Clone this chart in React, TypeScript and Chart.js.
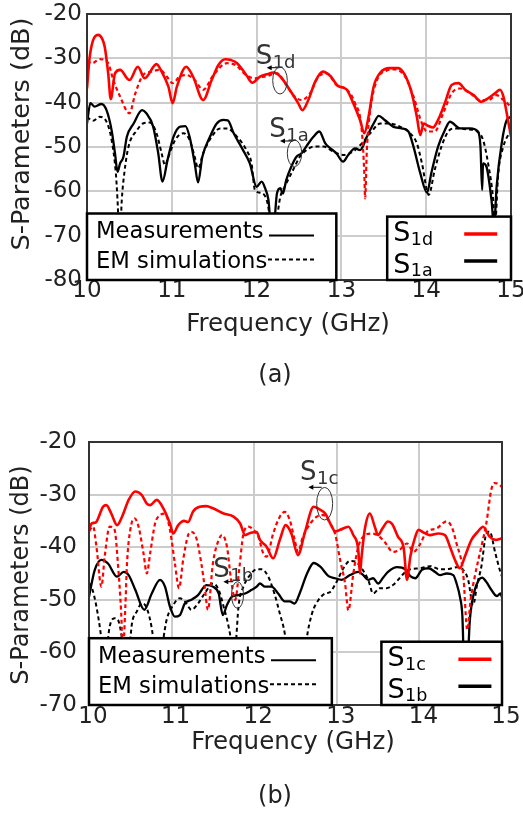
import React, { useEffect, useRef } from "react";
import { Chart, registerables } from "chart.js";

Chart.register(...registerables);

const FONT = "'DejaVu Sans', 'Liberation Sans', sans-serif";
const RED = "#ff0000";
const BLACK = "#000000";
const GRID = "#cccccc";
const FRAME = "#333333";
const TEXT = "#222222";

// ---------- tick values ----------
const xTicks = [10, 11, 12, 13, 14, 15];
const aYTicks = [-80, -70, -60, -50, -40, -30, -20];
const bYTicks = [-70, -60, -50, -40, -30, -20];

// ---------- chart (a) ----------
const aS1dMeasFreq = [10.00,10.03,10.07,10.13,10.18,10.21,10.25,10.28,10.33,10.39,10.50,10.60,10.68,10.82,10.88,10.96,11.01,11.06,11.17,11.25,11.37,11.47,11.55,11.63,11.70,11.77,11.88,11.95,12.04,12.12,12.20,12.28,12.39,12.49,12.54,12.61,12.69,12.78,12.87,12.96,13.06,13.14,13.22,13.27,13.32,13.38,13.46,13.57,13.67,13.75,13.83,13.89,13.93,13.97,14.02,14.08,14.14,14.22,14.30,14.38,14.46,14.56,14.65,14.73,14.81,14.87,14.91,14.95,15.00];
const aS1dMeasDb = [-36.8,-30.0,-26.0,-24.7,-25.6,-27.5,-33.4,-39.2,-33.4,-32.6,-34.9,-31.9,-34.5,-31.3,-33.0,-36.4,-40.1,-36.4,-31.9,-34.1,-39.4,-34.9,-31.5,-30.2,-30.4,-31.1,-33.8,-35.5,-34.1,-33.6,-33.2,-34.1,-37.1,-40.1,-41.7,-39.4,-35.3,-33.0,-34.0,-36.2,-37.0,-40.1,-43.9,-46.9,-43.2,-36.4,-33.2,-32.2,-32.2,-33.8,-37.9,-43.2,-47.3,-44.7,-45.2,-45.6,-43.9,-40.1,-36.0,-35.6,-37.1,-38.3,-39.8,-39.0,-37.9,-37.1,-38.6,-42.4,-47.7];

const aS1dSimFreq = [10.00,10.06,10.15,10.25,10.31,10.39,10.50,10.57,10.66,10.76,10.86,10.94,11.01,11.10,11.18,11.27,11.37,11.49,11.65,11.75,11.88,11.98,12.12,12.24,12.35,12.43,12.53,12.63,12.73,12.83,12.94,13.06,13.16,13.24,13.27,13.28,13.30,13.34,13.42,13.53,13.63,13.75,13.85,13.95,14.01,14.10,14.20,14.30,14.40,14.52,14.63,14.73,14.83,14.91,15.00];
const aS1dSimDb = [-30.6,-31.1,-30.2,-31.1,-34.9,-38.6,-42.4,-37.9,-33.8,-33.0,-32.6,-34.1,-35.6,-34.0,-33.8,-34.9,-37.1,-33.8,-31.1,-31.5,-33.8,-34.5,-34.0,-33.4,-36.0,-38.3,-39.4,-37.9,-34.1,-33.4,-36.0,-37.0,-40.1,-46.2,-55.9,-61.6,-50.7,-41.7,-34.9,-32.8,-32.5,-34.1,-38.6,-44.7,-46.5,-46.5,-42.4,-37.9,-36.8,-37.9,-39.4,-39.4,-38.3,-39.4,-40.9];

const aS1aMeasFreq = [10.00,10.04,10.09,10.17,10.23,10.29,10.33,10.36,10.39,10.43,10.47,10.55,10.65,10.70,10.78,10.84,10.89,10.95,11.02,11.10,11.16,11.21,11.27,11.31,11.36,11.45,11.53,11.61,11.66,11.73,11.84,11.92,12.00,12.06,12.10,12.14,12.17,12.20,12.24,12.28,12.31,12.35,12.41,12.47,12.53,12.61,12.67,12.74,12.81,12.87,12.94,13.02,13.08,13.16,13.22,13.30,13.38,13.44,13.51,13.61,13.71,13.79,13.85,13.93,14.01,14.06,14.14,14.22,14.28,14.40,14.52,14.61,14.64,14.66,14.67,14.71,14.77,14.80,14.83,14.89,14.95,15.00];
const aS1aMeasDb = [-44.7,-40.1,-40.9,-40.3,-41.7,-46.2,-51.4,-55.6,-53.7,-52.2,-47.7,-44.7,-41.7,-42.4,-45.4,-51.4,-57.8,-52.9,-47.7,-45.4,-45.3,-47.7,-53.7,-58.0,-52.2,-47.7,-44.7,-43.9,-44.0,-46.9,-50.7,-53.7,-59.0,-57.8,-59.3,-62.0,-68.0,-68.0,-60.5,-59.3,-60.5,-57.4,-54.4,-52.2,-51.4,-49.2,-47.7,-46.5,-49.2,-50.3,-51.4,-53.3,-51.8,-50.3,-50.7,-47.7,-44.7,-43.0,-43.9,-45.4,-45.8,-46.5,-49.9,-55.9,-60.3,-55.9,-49.9,-46.2,-44.3,-45.8,-45.8,-46.5,-49.9,-59.7,-53.7,-54.4,-62.0,-68.0,-59.0,-49.2,-43.9,-43.2];

const aS1aSimFreq = [10.00,10.07,10.15,10.23,10.29,10.34,10.36,10.385,10.41,10.44,10.49,10.59,10.66,10.74,10.82,10.88,10.92,10.96,11.04,11.14,11.21,11.27,11.31,11.37,11.47,11.57,11.65,11.77,11.88,11.94,11.98,12.06,12.12,12.16,12.20,12.24,12.28,12.33,12.43,12.51,12.59,12.67,12.79,12.90,13.02,13.14,13.24,13.34,13.46,13.57,13.69,13.81,13.89,13.95,14.03,14.10,14.18,14.26,14.34,14.48,14.60,14.67,14.73,14.79,14.81,14.85,14.91,15.00];
const aS1aSimDb = [-43.2,-44.1,-43.2,-44.3,-48.4,-55.9,-62.0,-72.0,-62.0,-55.9,-49.9,-46.2,-44.7,-44.5,-46.9,-51.4,-54.1,-52.2,-48.4,-46.9,-48.4,-52.2,-54.8,-51.4,-47.7,-45.8,-45.8,-47.7,-50.7,-53.7,-59.7,-60.4,-62.0,-66.0,-70.0,-66.0,-61.2,-59.0,-55.2,-52.2,-50.7,-49.9,-49.9,-51.0,-51.8,-51.0,-49.2,-46.9,-44.7,-44.7,-45.4,-46.9,-49.2,-53.7,-60.8,-55.2,-49.9,-46.5,-45.8,-46.0,-46.5,-48.4,-53.7,-62.0,-68.0,-55.9,-49.9,-46.2];

// ---------- chart (b) ----------
const bS1cMeasFreq = [10.00,10.03,10.08,10.17,10.21,10.27,10.34,10.40,10.48,10.56,10.64,10.70,10.74,10.82,10.90,10.98,11.02,11.08,11.15,11.20,11.26,11.34,11.42,11.50,11.63,11.75,11.83,11.89,11.95,12.03,12.07,12.15,12.23,12.31,12.38,12.45,12.53,12.61,12.72,12.79,12.86,12.94,12.98,13.04,13.14,13.20,13.26,13.28,13.30,13.34,13.40,13.46,13.50,13.55,13.62,13.67,13.74,13.81,13.85,13.89,13.95,13.99,14.05,14.13,14.23,14.31,14.37,14.43,14.49,14.55,14.63,14.71,14.77,14.85,14.92,15.00];
const bS1cMeasDb = [-37.0,-35.5,-35.3,-32.3,-32.0,-33.6,-35.8,-34.2,-31.0,-29.4,-30.1,-31.7,-32.0,-31.0,-32.6,-35.5,-37.4,-35.8,-35.0,-35.2,-33.2,-32.3,-32.2,-32.6,-33.6,-34.2,-35.5,-37.7,-37.3,-37.1,-38.6,-39.9,-42.1,-38.6,-35.8,-37.4,-41.5,-37.4,-32.3,-32.8,-33.6,-36.1,-37.0,-36.7,-36.1,-37.7,-40.5,-45.0,-41.8,-36.5,-33.6,-36.1,-37.7,-36.5,-35.1,-35.6,-38.0,-40.2,-46.2,-41.8,-38.0,-36.7,-37.2,-37.7,-37.4,-37.7,-39.9,-42.4,-44.0,-41.8,-38.6,-37.0,-36.1,-38.0,-38.6,-38.3];

const bS1cSimFreq = [10.00,10.05,10.09,10.15,10.19,10.25,10.31,10.35,10.39,10.41,10.44,10.46,10.50,10.55,10.60,10.66,10.70,10.74,10.80,10.86,10.92,10.98,11.04,11.09,11.14,11.20,11.24,11.30,11.36,11.40,11.44,11.50,11.57,11.61,11.67,11.72,11.77,11.82,11.87,11.93,11.99,12.05,12.11,12.15,12.23,12.31,12.37,12.43,12.49,12.53,12.59,12.68,12.76,12.84,12.92,12.98,13.04,13.10,13.14,13.20,13.26,13.32,13.42,13.50,13.58,13.68,13.76,13.85,13.93,13.99,14.09,14.21,14.33,14.39,14.45,14.53,14.58,14.62,14.67,14.75,14.81,14.87,14.91,14.96,15.00];
const bS1cSimDb = [-36.9,-36.1,-39.9,-47.5,-41.8,-36.1,-36.7,-43.1,-52.6,-60.0,-51.3,-43.1,-36.7,-34.5,-36.1,-41.2,-45.0,-41.2,-35.5,-33.9,-33.6,-36.7,-43.1,-47.8,-42.4,-37.7,-37.1,-38.3,-43.1,-47.5,-51.9,-43.1,-38.6,-37.7,-39.9,-46.2,-50.0,-44.0,-37.4,-36.1,-36.7,-38.0,-41.2,-41.8,-37.4,-34.2,-33.3,-34.8,-38.6,-40.9,-38.0,-35.5,-34.2,-33.9,-35.5,-37.5,-42.4,-46.9,-52.0,-45.0,-39.9,-38.0,-37.4,-37.8,-39.0,-40.9,-40.5,-39.3,-40.9,-39.9,-37.1,-36.4,-35.1,-36.1,-39.3,-45.0,-55.7,-50.0,-45.6,-39.9,-35.5,-29.1,-27.8,-28.0,-28.6];

const bS1bMeasFreq = [10.00,10.07,10.15,10.23,10.34,10.42,10.48,10.56,10.67,10.76,10.86,10.92,10.98,11.04,11.10,11.16,11.24,11.32,11.42,11.50,11.57,11.62,11.67,11.73,11.81,11.89,11.97,12.03,12.07,12.13,12.21,12.29,12.37,12.43,12.49,12.55,12.64,12.72,12.80,12.90,12.98,13.06,13.16,13.26,13.32,13.38,13.44,13.50,13.56,13.62,13.73,13.83,13.89,13.95,14.03,14.11,14.19,14.25,14.33,14.41,14.45,14.49,14.52,14.545,14.575,14.61,14.66,14.72,14.76,14.81,14.87,14.94,14.98,15.00];
const bS1bMeasDb = [-49.4,-44.3,-42.4,-43.1,-45.6,-44.7,-45.3,-48.1,-51.9,-48.8,-46.2,-47.5,-51.3,-53.2,-52.9,-50.7,-50.0,-49.1,-47.2,-47.5,-48.8,-52.9,-51.0,-49.4,-49.1,-48.8,-48.1,-47.5,-46.9,-47.5,-47.5,-48.8,-50.3,-50.3,-50.7,-48.8,-45.0,-43.0,-43.7,-45.5,-45.9,-46.2,-45.3,-44.7,-45.3,-46.2,-45.9,-46.9,-45.8,-44.7,-43.8,-44.2,-45.5,-45.9,-44.3,-44.0,-44.7,-45.3,-45.0,-45.3,-46.9,-49.4,-53.0,-64.0,-64.0,-54.0,-48.7,-46.2,-45.8,-46.6,-48.1,-49.3,-48.8,-49.5];

const bS1bSimFreq = [10.00,10.03,10.09,10.15,10.19,10.23,10.25,10.31,10.35,10.40,10.45,10.50,10.52,10.58,10.64,10.68,10.74,10.78,10.84,10.90,10.94,11.02,11.10,11.16,11.24,11.32,11.40,11.50,11.57,11.63,11.69,11.72,11.75,11.78,11.81,11.87,11.95,12.03,12.09,12.17,12.25,12.31,12.37,12.45,12.55,12.63,12.70,12.78,12.86,12.92,13.00,13.08,13.16,13.22,13.30,13.38,13.44,13.52,13.60,13.68,13.76,13.83,13.89,14.01,14.13,14.25,14.37,14.45,14.53,14.59,14.65,14.70,14.75,14.81,14.85,14.92,14.98,15.00];
const bS1bSimDb = [-46.8,-47.5,-51.3,-57.5,-64.0,-57.5,-55.1,-53.5,-53.8,-57.5,-65.0,-57.5,-54.5,-52.2,-50.7,-51.0,-53.8,-57.5,-65.0,-57.5,-53.8,-51.0,-49.7,-50.3,-51.9,-50.7,-48.8,-46.9,-48.1,-51.3,-55.1,-58.0,-64.0,-58.0,-51.3,-47.5,-45.3,-44.2,-44.2,-45.6,-49.1,-52.6,-56.4,-66.0,-70.0,-58.0,-52.6,-50.0,-48.8,-48.5,-46.5,-44.0,-42.6,-42.7,-44.0,-46.2,-48.8,-47.8,-47.8,-47.2,-45.9,-44.7,-44.2,-44.0,-43.6,-44.2,-44.1,-43.8,-44.3,-46.2,-51.0,-47.0,-43.7,-37.4,-37.0,-41.2,-44.7,-45.6];

// ---------- helpers ----------
const pts = (f: number[], d: number[]) => f.map((x, i) => ({ x, y: d[i] }));

type Series = { f: number[]; d: number[]; color: string; width: number; dash: boolean };
type Annot = { sub: string; tf: number; tdb: number; ef: number; edb: number; rx: number; ry: number; adb: number; af0: number; af1: number };
type Spec = {
  height: number; top: number; padTop: number; padRight: number; yAxisWidth: number; xAxisHeight: number;
  yMin: number; yMax: number; yTicks: number[]; yTickPad: number; xTickPad: number; xLabelOffset: number;
  series: Series[];
  styleBox: { f0: number; f1: number; top: number; bottom: number };
  seriesBox: { f0: number; f1: number; top: number; bottom: number; entries: { sub: string; color: string }[] };
  annots: Annot[];
  yTitle: { x: number; y: number; size: number };
  xTitle: { x: number; y: number; size: number };
  caption: { text: string; x: number; y: number };
};

function drawSub(ctx: CanvasRenderingContext2D, x: number, y: number, sub: string, mainSize: number, subSize: number, drop: number, color: string) {
  ctx.fillStyle = color;
  ctx.textAlign = "left";
  ctx.textBaseline = "alphabetic";
  ctx.font = `${mainSize}px ${FONT}`;
  ctx.fillText("S", x, y);
  const w = ctx.measureText("S").width;
  ctx.font = `${subSize}px ${FONT}`;
  ctx.fillText(sub, x + w + 0.5, y + drop);
}

function makeDecor(spec: Spec) {
  return {
    id: "decor",
    afterDatasetsDraw(chart: any) {
      const { ctx, chartArea: ca, scales } = chart;
      const X = (v: number) => scales.x.getPixelForValue(v);
      const Y = (v: number) => scales.y.getPixelForValue(v);
      ctx.save();
      // frame
      ctx.strokeStyle = FRAME;
      ctx.lineWidth = 2;
      ctx.setLineDash([]);
      ctx.strokeRect(ca.left, ca.top, ca.right - ca.left, ca.bottom - ca.top);

      // annotations
      for (const a of spec.annots) {
        ctx.strokeStyle = "#333333";
        ctx.lineWidth = 1;
        ctx.beginPath();
        ctx.ellipse(X(a.ef), Y(a.edb), a.rx, a.ry, 0, 0, Math.PI * 2);
        ctx.stroke();
        const ay = Y(a.adb);
        const x0 = X(a.af0), x1 = X(a.af1);
        ctx.strokeStyle = "#000";
        ctx.beginPath();
        ctx.moveTo(x0, ay);
        ctx.lineTo(x1 + 3, ay);
        ctx.stroke();
        ctx.fillStyle = "#000";
        ctx.beginPath();
        ctx.moveTo(x1, ay);
        ctx.lineTo(x1 + 5, ay - 2.5);
        ctx.lineTo(x1 + 5, ay + 2.5);
        ctx.closePath();
        ctx.fill();
        drawSub(ctx, X(a.tf), Y(a.tdb), a.sub, 26, 18, 4, "#333333");
      }

      // style legend box
      const sb = spec.styleBox;
      const l = X(sb.f0), r = X(sb.f1), t = Y(sb.top), b = Y(sb.bottom);
      ctx.fillStyle = "#ffffff";
      ctx.fillRect(l, t, r - l, b - t);
      ctx.strokeStyle = "#000";
      ctx.lineWidth = 2.5;
      ctx.strokeRect(l, t, r - l, b - t);
      ctx.fillStyle = "#000";
      ctx.font = `22.7px ${FONT}`;
      ctx.textAlign = "left";
      ctx.textBaseline = "alphabetic";
      ctx.fillText("Measurements", l + 9, t + 24.5);
      ctx.fillText("EM simulations", l + 9, t + 54.5);
      ctx.lineWidth = 2;
      ctx.beginPath();
      ctx.moveTo(l + 182, t + 22);
      ctx.lineTo(l + 227, t + 22);
      ctx.stroke();
      ctx.setLineDash([4, 3]);
      ctx.beginPath();
      ctx.moveTo(l + 181, t + 46);
      ctx.lineTo(l + 227, t + 46);
      ctx.stroke();
      ctx.setLineDash([]);

      // series legend box
      const rb = spec.seriesBox;
      const l2 = X(rb.f0), r2 = X(rb.f1), t2 = Y(rb.top), b2 = Y(rb.bottom);
      ctx.fillStyle = "#ffffff";
      ctx.fillRect(l2, t2, r2 - l2, b2 - t2);
      ctx.strokeStyle = "#000";
      ctx.lineWidth = 2.5;
      ctx.strokeRect(l2, t2, r2 - l2, b2 - t2);
      rb.entries.forEach((e, i) => {
        const base = t2 + (i === 0 ? 24.5 : 56);
        const ly = t2 + (i === 0 ? 17.5 : 44.5);
        drawSub(ctx, l2 + 6, base, e.sub, 27, 17.5, 3.5, "#000");
        ctx.strokeStyle = e.color;
        ctx.lineWidth = 3.5;
        ctx.beginPath();
        ctx.moveTo(l2 + 77, ly);
        ctx.lineTo(l2 + 110, ly);
        ctx.stroke();
      });
      ctx.restore();
    },
    afterDraw(chart: any) {
      const { ctx } = chart;
      ctx.save();
      ctx.fillStyle = TEXT;
      ctx.textAlign = "center";
      ctx.textBaseline = "middle";
      ctx.font = `${spec.xTitle.size}px ${FONT}`;
      ctx.fillText("Frequency (GHz)", spec.xTitle.x, spec.xTitle.y);
      ctx.font = `24px ${FONT}`;
      ctx.fillText(spec.caption.text, spec.caption.x, spec.caption.y);
      ctx.translate(spec.yTitle.x, spec.yTitle.y);
      ctx.rotate(-Math.PI / 2);
      ctx.font = `${spec.yTitle.size}px ${FONT}`;
      ctx.fillText("S-Parameters (dB)", 0, 0);
      ctx.restore();
    },
  };
}

function buildConfig(spec: Spec): any {
  return {
    type: "line",
    data: {
      datasets: spec.series.map((s) => ({
        data: pts(s.f, s.d),
        borderColor: s.color,
        borderWidth: s.width,
        borderDash: s.dash ? [4, 3] : [],
        pointRadius: 0,
        fill: false,
        cubicInterpolationMode: "monotone",
      })),
    },
    options: {
      animation: false,
      responsive: false,
      devicePixelRatio: 1,
      events: [],
      layout: { padding: { top: spec.padTop, right: spec.padRight, bottom: 0, left: 0 } },
      plugins: { legend: { display: false }, tooltip: { enabled: false }, title: { display: false } },
      scales: {
        x: {
          type: "linear",
          min: xTicks[0],
          max: xTicks[xTicks.length - 1],
          afterBuildTicks: (s: any) => { s.ticks = xTicks.map((v) => ({ value: v })); },
          ticks: {
            font: { family: FONT, size: 23 },
            color: TEXT,
            padding: spec.xTickPad,
            labelOffset: spec.xLabelOffset,
            maxRotation: 0,
            autoSkip: false,
            callback: (v: number) => String(v),
          },
          grid: { color: GRID, lineWidth: 2, drawTicks: false },
          border: { display: false },
          afterFit: (s: any) => { s.height = spec.xAxisHeight; s.paddingLeft = 0; s.paddingRight = 0; },
        },
        y: {
          type: "linear",
          min: spec.yMin,
          max: spec.yMax,
          afterBuildTicks: (s: any) => { s.ticks = spec.yTicks.map((v) => ({ value: v })); },
          ticks: {
            font: { family: FONT, size: 23 },
            color: TEXT,
            padding: spec.yTickPad,
            autoSkip: false,
            callback: (v: number) => String(v),
          },
          grid: { color: GRID, lineWidth: 2, drawTicks: false },
          border: { display: false },
          afterFit: (s: any) => { s.width = spec.yAxisWidth; s.paddingTop = 0; s.paddingBottom = 0; },
        },
      },
    },
    plugins: [makeDecor(spec)],
  };
}

const specA: Spec = {
  height: 400, top: 0, padTop: 14, padRight: 12, yAxisWidth: 87, xAxisHeight: 120,
  yMin: -80, yMax: -20, yTicks: aYTicks, yTickPad: 5, xTickPad: -3, xLabelOffset: 0,
  series: [
    { f: aS1dMeasFreq, d: aS1dMeasDb, color: RED, width: 2.6, dash: false },
    { f: aS1dSimFreq, d: aS1dSimDb, color: RED, width: 2.2, dash: true },
    { f: aS1aMeasFreq, d: aS1aMeasDb, color: BLACK, width: 2.3, dash: false },
    { f: aS1aSimFreq, d: aS1aSimDb, color: BLACK, width: 2, dash: true },
  ],
  styleBox: { f0: 10, f1: 12.94, top: -65, bottom: -80 },
  seriesBox: { f0: 13.54, f1: 15, top: -65.7, bottom: -80, entries: [{ sub: "1d", color: RED }, { sub: "1a", color: BLACK }] },
  annots: [
    { sub: "1d", tf: 11.989, tdb: -31.28, ef: 12.276, edb: -35.0, rx: 7.3, ry: 13.5, adb: -32.11, af0: 12.268, af1: 12.119 },
    { sub: "1a", tf: 12.15, tdb: -47.68, ef: 12.447, edb: -51.42, rx: 7.2, ry: 13.3, adb: -48.65, af0: 12.433, af1: 12.276 },
  ],
  yTitle: { x: 22, y: 134, size: 25.5 },
  xTitle: { x: 288, y: 325, size: 24.5 },
  caption: { text: "(a)", x: 275, y: 376 },
};

const specB: Spec = {
  height: 415, top: 400, padTop: 42, padRight: 21, yAxisWidth: 89, xAxisHeight: 110,
  yMin: -70, yMax: -20, yTicks: bYTicks, yTickPad: 12, xTickPad: -1.3, xLabelOffset: 4,
  series: [
    { f: bS1cMeasFreq, d: bS1cMeasDb, color: RED, width: 2.6, dash: false },
    { f: bS1cSimFreq, d: bS1cSimDb, color: RED, width: 2.2, dash: true },
    { f: bS1bMeasFreq, d: bS1bMeasDb, color: BLACK, width: 2.3, dash: false },
    { f: bS1bSimFreq, d: bS1bSimDb, color: BLACK, width: 2, dash: true },
  ],
  styleBox: { f0: 10, f1: 12.94, top: -57.3, bottom: -70 },
  seriesBox: { f0: 13.54, f1: 15, top: -57.97, bottom: -70, entries: [{ sub: "1c", color: RED }, { sub: "1b", color: BLACK }] },
  annots: [
    { sub: "1c", tf: 12.554, tdb: -27.22, ef: 12.853, edb: -31.73, rx: 8, ry: 16.3, adb: -28.61, af0: 12.817, af1: 12.655 },
    { sub: "1b", tf: 11.505, tdb: -45.6, ef: 11.798, edb: -49.09, rx: 6, ry: 13.3, adb: -46.56, af0: 11.747, af1: 11.626 },
  ],
  yTitle: { x: 22, y: 175, size: 24 },
  xTitle: { x: 293, y: 343, size: 24.5 },
  caption: { text: "(b)", x: 275, y: 397 },
};

function Plot({ spec }: { spec: Spec }) {
  const ref = useRef<HTMLCanvasElement>(null);
  useEffect(() => {
    if (!ref.current) return;
    const chart = new Chart(ref.current, buildConfig(spec));
    return () => chart.destroy();
  }, [spec]);
  return (
    <canvas
      ref={ref}
      width={523}
      height={spec.height}
      style={{ position: "absolute", left: 0, top: spec.top, width: 523, height: spec.height }}
    />
  );
}

export default function App() {
  return (
    <div style={{ position: "absolute", left: 0, top: 0, width: 523, height: 815, background: "#fff" }}>
      <Plot spec={specA} />
      <Plot spec={specB} />
    </div>
  );
}
